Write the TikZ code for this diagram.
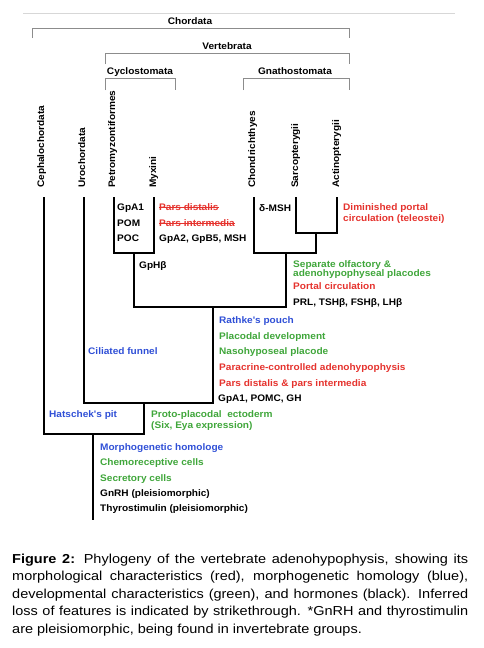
\documentclass[tikz,border=0pt]{standalone}
\usepackage{fontspec}
\usetikzlibrary{calc}
\newfontfamily\labfont{Liberation Sans}[FakeStretch=1.06]
\newfontfamily\capfont{Liberation Sans}[FakeStretch=1.115]
\definecolor{morf}{HTML}{E5322D}
\definecolor{homol}{HTML}{2F4FD6}
\definecolor{devel}{HTML}{3FA63A}
\definecolor{clado}{HTML}{8C8C8C}

\begin{document}
\begin{tikzpicture}[x=1pt,y=-1pt,
    lab/.style={font=\labfont\bfseries\fontsize{9.5}{9.5}\selectfont,inner sep=0pt,anchor=base west},
    taxon/.style={lab,rotate=90,anchor=mid west},
    group/.style={lab,anchor=base},
    tree/.style={line width=1.2pt},
    clade/.style={clado,line width=0.9pt},
    strike/.style={morf,line width=0.8pt},
    capline/.style={font=\capfont\fontsize{13}{17.5}\selectfont,inner sep=0pt,anchor=base west}]
  \useasboundingbox (0,0) rectangle (484,648);
  \draw[clado!35] (23,13) -- (455,13);

  % clade brackets
  \node[group] (chordata) at (190,24) {Chordata};
  \draw[clade] (32,38) -- (32,28) -- (349,28) -- (349,38);
  \node[group] (vertebrata) at (227,49.5) {Vertebrata};
  \draw[clade] (105,64) -- (105,53) -- (349,53) -- (349,64);
  \node[group] (cyclostomata) at (140,74.5) {Cyclostomata};
  \draw[clade] (105,90) -- (105,78) -- (175,78) -- (175,90);
  \node[group] (gnathostomata) at (295,74.5) {Gnathostomata};
  \draw[clade] (243,90) -- (243,78) -- (349,78) -- (349,90);

  % taxa
  \node[taxon] (ceph)   at (42,188)  {Cephalochordata};
  \node[taxon] (uro)    at (83,188)  {Urochordata};
  \node[taxon] (petro)  at (113,188) {Petromyzontiformes};
  \node[taxon] (myx)    at (154,188) {Myxini};
  \node[taxon] (chond)  at (253,188) {Chondrichthyes};
  \node[taxon] (sarco)  at (296,188) {Sarcopterygii};
  \node[taxon] (actino) at (337,188) {Actinopterygii};

  % tips and branch points
  \coordinate (tCeph)   at (44,197);
  \coordinate (tUro)    at (84,197);
  \coordinate (tPetro)  at (114,197);
  \coordinate (tMyx)    at (154,197);
  \coordinate (tChond)  at (254,197);
  \coordinate (tSarco)  at (296,197);
  \coordinate (tActino) at (337,197);
  \coordinate (nCyclo)  at (134,253);
  \coordinate (nOste)   at (316,233);
  \coordinate (nGnath)  at (286,253);
  \coordinate (nVert)   at (213,307);
  \coordinate (nOlf)    at (144,403);
  \coordinate (nChord)  at (93,434);
  \coordinate (nRoot)   at (93,520);

  \draw[tree] (tPetro) |- (nCyclo) -| (tMyx);
  \draw[tree] (tSarco) |- (nOste) -| (tActino);
  \draw[tree] (tChond) |- (nGnath) -| (nOste);
  \draw[tree] (nCyclo) |- (nVert) -| (nGnath);
  \draw[tree] (tUro) |- (nOlf) -| (nVert);
  \draw[tree] (tCeph) |- (nChord) -| (nOlf);
  \draw[tree] (nChord) -- (nRoot);

  % Cyclostomata
  \node[lab] (gpa1) at (117,210.5) {GpA1};
  \node[lab] (pom)  at (117,226.5) {POM};
  \node[lab] (poc)  at (117,241.5) {POC};
  \node[lab,morf] (pdist) at (159,210.5) {Pars distalis};
  \node[lab,morf] (pint)  at (159,226.5) {Pars intermedia};
  \draw[strike] ($(pdist.base west)+(0,-3)$) -- ($(pdist.base east)+(0,-3)$);
  \draw[strike] ($(pint.base west)+(0,-3)$) -- ($(pint.base east)+(0,-3)$);
  \node[lab] (gpa2) at (159,241.5) {GpA2, GpB5, MSH};
  \node[lab] (gphb) at (139,268.5) {GpHβ};

  % Gnathostomata
  \node[lab] (dmsh) at (259,211.5) {δ-MSH};
  \node[lab,morf] (dim1) at (343,210.5) {Diminished portal};
  \node[lab,morf] (dim2) at (343,221)   {circulation (teleostei)};
  \node[lab,devel] (sep1) at (293,267.5) {Separate olfactory \&};
  \node[lab,devel] (sep2) at (293,276.5) {adenohypophyseal placodes};
  \node[lab,morf] (portal) at (293,289.5) {Portal circulation};
  \node[lab] (prl) at (293,305.3) {PRL, TSHβ, FSHβ, LHβ};

  % Vertebrata
  \node[lab,homol] (rathke) at (219,323.5) {Rathke's pouch};
  \node[lab,devel] (placod) at (219,339.3) {Placodal development};
  \node[lab,devel] (nasoh)  at (219,354.5) {Nasohyposeal placode};
  \node[lab,morf]  (parac)  at (219,370.3) {Paracrine-controlled adenohypophysis};
  \node[lab,morf]  (pdpi)   at (219,386.3) {Pars distalis \& pars intermedia};
  \node[lab]       (pomc)   at (218,401.5) {GpA1, POMC, GH};
  \node[lab,homol] (cilia)  at (88,354.5)  {Ciliated funnel};

  % Olfactores and Chordata
  \node[lab,homol] (hatsch) at (49,417.5)  {Hatschek's pit};
  \node[lab,devel] (proto1) at (151,417.5) {Proto-placodal~ ectoderm};
  \node[lab,devel] (proto2) at (151,428.5) {(Six, Eya expression)};
  \node[lab,homol] (morph)  at (100,450.5) {Morphogenetic homologe};
  \node[lab,devel] (chemo)  at (100,465.5) {Chemoreceptive cells};
  \node[lab,devel] (secr)   at (100,481.3) {Secretory cells};
  \node[lab]       (gnrh)   at (100,496.5) {GnRH (pleisiomorphic)};
  \node[lab]       (thyro)  at (100,511.5) {Thyrostimulin (pleisiomorphic)};

  % caption
  \node[capline] (cap1) at (12,563)
    {\hbox to 456pt{\textbf{Figure 2:} Phylogeny of the vertebrate adenohypophysis, showing its}};
  \node[capline] (cap2) at (12,580.5)
    {\hbox to 456pt{morphological characteristics (red), morphogenetic homology (blue),}};
  \node[capline] (cap3) at (12,598)
    {\hbox to 456pt{developmental characteristics (green), and hormones (black). Inferred}};
  \node[capline] (cap4) at (12,615.5)
    {\hbox to 456pt{loss of features is indicated by strikethrough. *GnRH and thyrostimulin}};
  \node[capline] (cap5) at (12,633)
    {are pleisiomorphic, being found in invertebrate groups.};
\end{tikzpicture}
\end{document}
